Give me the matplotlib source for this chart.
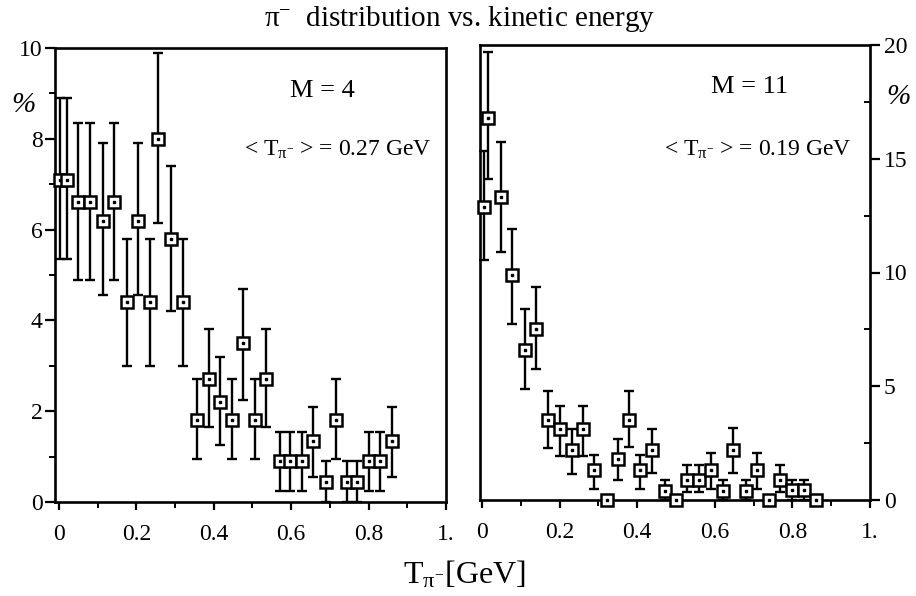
import numpy as np
import matplotlib
matplotlib.use('Agg')
import matplotlib.pyplot as plt
from matplotlib.ticker import MultipleLocator

#__Fuentes__#############################
plt.rcParams['font.family'] = ['Liberation Serif', 'DejaVu Serif']
plt.rcParams['mathtext.fontset'] = 'custom'
plt.rcParams['mathtext.rm'] = 'Liberation Serif'
plt.rcParams['mathtext.it'] = 'Liberation Serif:italic'
#########################################

#__Datos M=4__###########################
x4 = [0.003, 0.02, 0.05, 0.08, 0.113, 0.143, 0.175, 0.204, 0.236, 0.256,
      0.289, 0.32, 0.357, 0.387, 0.415, 0.447, 0.476, 0.506, 0.535, 0.57,
      0.598, 0.628, 0.657, 0.69, 0.717, 0.743, 0.77, 0.80, 0.829, 0.86]
y4 = [7.1, 7.1, 6.6, 6.6, 6.2, 6.6, 4.4, 6.2, 4.4, 8.0,
      5.8, 4.4, 1.8, 2.7, 2.2, 1.8, 3.5, 1.8, 2.7, 0.9,
      0.9, 0.9, 1.35, 0.45, 1.8, 0.45, 0.45, 0.9, 0.9, 1.35]
top4 = [8.9, 8.9, 8.35, 8.35, 7.9, 8.35, 5.8, 7.9, 5.8, 9.9,
        7.4, 5.8, 2.7, 3.8, 3.2, 2.7, 4.7, 2.7, 3.8, 1.55,
        1.55, 1.55, 2.1, 0.9, 2.7, 0.9, 0.9, 1.55, 1.55, 2.1]
bot4 = [5.35, 5.35, 4.9, 4.9, 4.55, 4.9, 3.0, 4.55, 3.0, 6.15,
        4.2, 3.0, 0.95, 1.65, 1.25, 0.95, 2.25, 0.95, 1.65, 0.25,
        0.25, 0.25, 0.55, 0.0, 0.95, 0.0, 0.0, 0.25, 0.25, 0.55]
#########################################

#__Datos M=11__##########################
x11 = [0.005, 0.015, 0.048, 0.078, 0.11, 0.139, 0.169, 0.2, 0.232, 0.26,
       0.29, 0.323, 0.351, 0.379, 0.408, 0.438, 0.471, 0.5, 0.529, 0.559,
       0.59, 0.62, 0.648, 0.68, 0.71, 0.74, 0.768, 0.8, 0.83, 0.86]
y11 = [12.9, 16.8, 13.3, 9.9, 6.6, 7.5, 3.5, 3.1, 2.2, 3.1,
       1.3, 0.0, 1.8, 3.5, 1.3, 2.2, 0.4, 0.0, 0.9, 0.9,
       1.3, 0.4, 2.2, 0.4, 1.3, 0.0, 0.9, 0.45, 0.45, 0.0]
top11 = [15.35, 19.7, 15.75, 11.9, 8.4, 9.35, 4.8, 4.15, 3.1, 4.15,
         2.0, 0.0, 2.7, 4.8, 2.0, 3.1, 0.9, 0.0, 1.55, 1.55,
         2.05, 0.9, 3.15, 0.9, 2.05, 0.0, 1.55, 0.9, 0.9, 0.0]
bot11 = [10.55, 14.1, 10.9, 7.75, 4.9, 5.75, 2.3, 1.95, 1.15, 1.95,
         0.5, 0.0, 0.9, 2.35, 0.5, 1.2, 0.0, 0.0, 0.35, 0.35,
         0.5, 0.0, 1.2, 0.0, 0.5, 0.0, 0.35, 0.0, 0.0, 0.0]
#########################################

xticks = [0, 0.2, 0.4, 0.6, 0.8, 1.0]
xlabels = ['0', '0.2', '0.4', '0.6', '0.8', '1.']

#__Dibujo__##############################
def puntos(ax, x, y, top, bot):
    x = np.array(x); y = np.array(y)
    err = [y - np.array(bot), np.array(top) - y]
    ax.errorbar(x, y, yerr=err, fmt='none', ecolor='black',
                elinewidth=1.7, capsize=3.5, capthick=1.7,
                clip_on=False, zorder=2)
    ax.plot(x, y, 's', ms=8.5, mfc='white', mec='black', mew=1.8,
            clip_on=False, zorder=3)
    ax.plot(x, y, 's', ms=1.8, color='black', clip_on=False, zorder=4)

def ejes(ax, x0):
    for s in ax.spines.values():
        s.set_linewidth(1.9)
    ax.set_xlim(x0, 1.0)
    ax.set_xticks(xticks)
    ax.set_xticklabels(xlabels)
    ax.xaxis.set_minor_locator(MultipleLocator(0.1))
    ax.tick_params(axis='x', which='major', direction='out', length=6,
                   width=1.6, pad=10, labelsize=17)
    ax.tick_params(axis='x', which='minor', direction='out', length=4,
                   width=1.4)

fig = plt.figure(figsize=(9.16, 5.96), dpi=100)

# panel izquierdo
ax1 = fig.add_axes([55/916, 1-502/596, 391/916, 454/596])
puntos(ax1, x4, y4, top4, bot4)
ejes(ax1, -0.01)
ax1.set_ylim(0, 10)
ax1.set_yticks([0, 2, 4, 6, 8, 10])
ax1.yaxis.set_minor_locator(MultipleLocator(1))
ax1.tick_params(axis='y', which='major', direction='out', length=7,
                width=1.6, pad=2, labelsize=17)
ax1.tick_params(axis='y', which='minor', direction='out', length=4, width=1.4)
ax1.text(0.68, 9.05, 'M = 4', ha='center', va='center', fontsize=19)
ax1.text(0.72, 7.75, r'< T$_{\mathrm{π}^{-}}$ > = 0.27 GeV', ha='center',
         va='center', fontsize=17)

# panel derecho
ax2 = fig.add_axes([480/916, 1-500/596, 390/916, 455/596])
puntos(ax2, x11, y11, top11, bot11)
ejes(ax2, -0.005)
ax2.set_ylim(0, 20)
ax2.set_yticks([0, 5, 10, 15, 20])
ax2.yaxis.set_minor_locator(MultipleLocator(2.5))
ax2.yaxis.tick_right()
ax2.tick_params(axis='y', which='major', direction='out', length=7,
                width=1.6, pad=3, labelsize=17)
ax2.tick_params(axis='y', which='minor', direction='in', length=4, width=1.4)
ax2.text(0.69, 18.15, 'M = 11', ha='center', va='center', fontsize=19)
ax2.text(0.71, 15.4, r'< T$_{\mathrm{π}^{-}}$ > = 0.19 GeV', ha='center',
         va='center', fontsize=17)

# textos de la figura
fig.text(0.502, 1-19/596, r'$\mathrm{π}^{-}$  distribution vs. kinetic energy',
         ha='center', va='center', fontsize=21)
fig.text(0.507, 0.035, r'T$_{\mathrm{π}^{-}}$[GeV]', ha='center',
         va='center', fontsize=23)
fig.text(23/916, 1-105/596, '%', ha='center', va='center', fontsize=21,
         style='italic')
fig.text(898/916, 1-97/596, '%', ha='center', va='center', fontsize=21,
         style='italic')

fig.savefig('out.png', dpi=100)
#########################################
